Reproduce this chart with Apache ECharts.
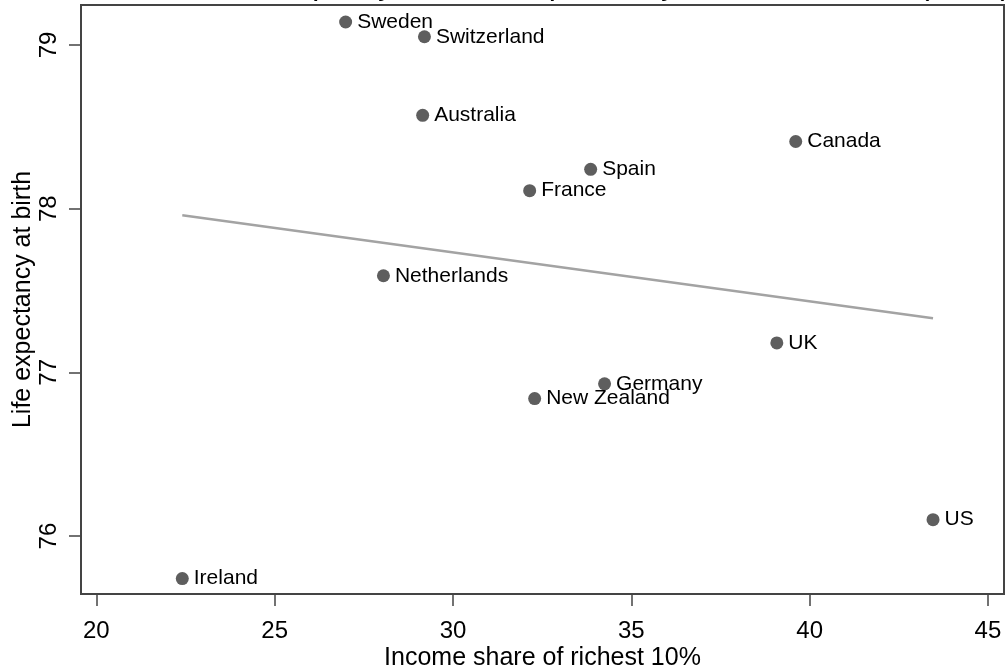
<!DOCTYPE html>
<html>
<head>
<meta charset="utf-8">
<title>Income inequality and life expectancy</title>
<script src="https://cdn.jsdelivr.net/npm/echarts@6/dist/echarts.min.js"></script>
<style>
  html, body { margin: 0; padding: 0; background: #fff; }
  #chart { width: 1008px; height: 671px; }
</style>
</head>
<body>
<div id="chart"></div>
<script>
// Countries and their values
const countries = ['Sweden', 'Switzerland', 'Australia', 'Canada', 'Spain', 'France',
  'Netherlands', 'UK', 'Germany', 'New Zealand', 'US', 'Ireland'];
const incomeShare = [26.99, 29.20, 29.15, 39.61, 33.86, 32.15, 28.05, 39.08, 34.25, 32.29, 43.46, 22.41];
const lifeExpectancy = [79.14, 79.05, 78.57, 78.41, 78.24, 78.11, 77.59, 77.18, 76.93, 76.84, 76.10, 75.74];

// Fitted line end points (x, y)
const fitX = [22.41, 43.46];
const fitY = [77.96, 77.33];

// Tick values
const xTicks = [20, 25, 30, 35, 40, 45];
const yTicks = [76, 77, 78, 79];

const FONT = '"Liberation Sans", Arial, Helvetica, sans-serif';

const points = countries.map((c, i) => ({ name: c, value: [incomeShare[i], lifeExpectancy[i]] }));
const fitLine = fitX.map((x, i) => [x, fitY[i]]);

const chart = echarts.init(document.getElementById('chart'), null, { renderer: 'canvas' });
chart.setOption({
  animation: false,
  backgroundColor: '#ffffff',
  title: {
    text: 'Income inequality and life expectancy in rich countries (2000)',
    left: 140,
    top: -36,
    z: 10,
    textStyle: { fontFamily: FONT, fontSize: 32, fontWeight: 'normal', color: '#000' }
  },
  grid: {
    left: 81, right: 4, top: 5, bottom: 77,
    outerBoundsMode: 'none',
    show: true, borderColor: '#444', borderWidth: 2, backgroundColor: 'transparent'
  },
  xAxis: {
    type: 'value',
    min: 19.57, max: 45.45,
    name: 'Income share of richest 10%',
    nameLocation: 'middle',
    nameGap: 52,
    nameMoveOverlap: false,
    nameTextStyle: { fontFamily: FONT, fontSize: 25, color: '#000' },
    axisLine: { show: false },
    splitLine: { show: false },
    axisTick: { show: true, length: 12, customValues: xTicks, lineStyle: { color: '#444', width: 1.5 } },
    axisLabel: { customValues: xTicks, margin: 25, fontFamily: FONT, fontSize: 24, color: '#000' }
  },
  yAxis: {
    type: 'value',
    min: 75.646, max: 79.244,
    name: 'Life expectancy at birth',
    nameLocation: 'middle',
    nameGap: 45,
    nameMoveOverlap: false,
    nameTextStyle: { fontFamily: FONT, fontSize: 25, color: '#000' },
    axisLine: { show: false },
    splitLine: { show: false },
    axisTick: { show: true, length: 12, customValues: yTicks, lineStyle: { color: '#444', width: 1.5 } },
    axisLabel: {
      customValues: yTicks, rotate: 90, margin: 20,
      align: 'center', verticalAlign: 'bottom',
      fontFamily: FONT, fontSize: 24, color: '#000'
    }
  },
  series: [
    {
      type: 'line',
      data: fitLine,
      showSymbol: false,
      symbol: 'none',
      lineStyle: { color: '#a3a3a3', width: 2.5 },
      z: 1
    },
    {
      type: 'scatter',
      data: points,
      symbol: 'circle',
      symbolSize: 13,
      itemStyle: { color: '#5e5e5e', opacity: 1 },
      label: {
        show: true,
        position: 'right',
        distance: 5,
        formatter: p => p.name,
        fontFamily: FONT,
        fontSize: 21,
        color: '#000'
      },
      z: 2
    }
  ]
});
</script>
</body>
</html>
